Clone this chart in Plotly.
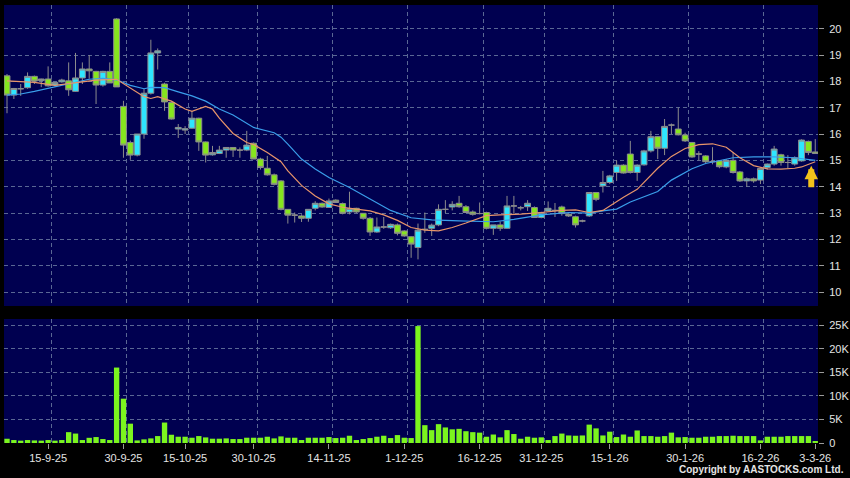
import numpy as np
import pandas as pd
import plotly.graph_objects as go

# ---------------- data ----------------
hk_holidays = ['2025-10-01', '2025-10-07', '2025-10-29', '2025-12-25', '2025-12-26',
               '2026-01-01', '2026-02-17', '2026-02-18', '2026-02-19']
dates = pd.bdate_range('2025-09-05', '2026-03-03', freq='C', holidays=hk_holidays)

open_ = [18.21, 17.48, 17.72, 17.76, 18.19, 18.03, 18.09, 17.86, 17.98, 18.02,
         17.62, 18.13, 18.47, 18.38, 17.86, 18.38, 20.37, 17.05, 15.68, 15.20,
         16.00, 17.55, 19.08, 17.90, 17.20, 16.19, 16.15, 16.22, 16.60, 15.70,
         15.21, 15.26, 15.39, 15.49, 15.39, 15.39, 15.65, 15.05, 14.70, 14.45,
         14.22, 13.14, 12.92, 12.89, 12.80, 13.18, 13.37, 13.21, 13.49, 13.36,
         13.04, 13.18, 12.99, 12.80, 12.28, 12.47, 12.44, 12.55, 12.32, 12.10,
         11.69, 12.38, 12.42, 12.55, 13.14, 13.23, 13.37, 13.24, 13.04, 12.98,
         13.02, 12.42, 12.55, 12.42, 13.27, 13.20, 13.24, 13.21, 12.83, 13.08,
         13.10, 13.23, 12.95, 12.86, 12.70, 12.89, 13.78, 14.03, 14.16, 14.54,
         14.82, 15.24, 14.54, 14.83, 15.36, 15.90, 15.46, 16.34, 16.19, 15.96,
         15.68, 15.24, 15.17, 14.95, 14.98, 14.75, 15.00, 14.56, 14.22, 14.30,
         14.25, 14.73, 14.86, 15.21, 14.92, 14.86, 14.98, 15.72, 15.32]
high = [18.28, 17.75, 17.90, 18.34, 18.22, 18.10, 18.57, 17.98, 18.10, 18.72,
        19.08, 18.72, 19.00, 18.40, 18.40, 18.72, 20.40, 17.26, 15.75, 16.00,
        17.71, 19.58, 19.25, 17.95, 17.20, 16.38, 16.30, 16.88, 16.62, 15.72,
        15.55, 15.55, 15.50, 15.50, 15.49, 16.12, 15.68, 15.10, 15.17, 14.50,
        14.25, 13.15, 13.02, 12.95, 13.15, 13.45, 13.40, 13.55, 13.52, 13.40,
        13.81, 13.20, 13.00, 12.85, 12.83, 12.85, 12.60, 12.60, 12.35, 12.12,
        12.60, 13.02, 12.60, 13.33, 13.49, 13.45, 13.65, 13.30, 13.10, 13.40,
        13.05, 12.55, 12.68, 13.65, 13.65, 13.27, 13.49, 13.25, 13.05, 13.44,
        13.38, 13.28, 13.00, 12.90, 12.75, 13.80, 13.80, 14.60, 14.45, 15.00,
        14.85, 15.74, 14.85, 15.40, 16.12, 15.92, 16.57, 16.40, 17.00, 16.05,
        15.70, 15.35, 15.20, 15.50, 15.00, 15.05, 15.30, 14.60, 14.35, 14.35,
        14.72, 14.88, 15.55, 15.25, 15.20, 15.15, 15.80, 15.75, 15.81]
low = [16.79, 17.33, 17.45, 17.72, 17.90, 17.78, 17.80, 17.80, 17.95, 17.45,
       17.60, 17.90, 18.10, 17.14, 17.80, 17.94, 17.79, 15.10, 15.02, 15.15,
       15.82, 17.50, 18.45, 16.88, 16.55, 15.85, 16.00, 16.20, 15.36, 14.92,
       15.18, 15.24, 15.10, 15.13, 15.10, 15.35, 15.05, 14.65, 14.42, 14.05,
       13.10, 12.60, 12.64, 12.66, 12.67, 13.10, 13.20, 13.20, 13.38, 12.95,
       12.95, 13.00, 12.75, 12.13, 12.25, 12.40, 12.40, 12.15, 12.10, 11.30,
       11.24, 12.25, 12.13, 12.50, 13.00, 13.10, 13.20, 13.00, 12.90, 12.95,
       12.38, 12.17, 12.32, 12.40, 12.98, 13.10, 13.08, 12.83, 12.80, 13.05,
       12.85, 12.90, 12.85, 12.45, 12.65, 12.85, 13.45, 13.78, 14.10, 14.22,
       14.50, 14.50, 14.22, 14.80, 15.30, 15.05, 15.20, 16.00, 15.95, 15.70,
       15.10, 15.00, 14.90, 14.85, 14.70, 14.70, 14.50, 14.18, 14.00, 14.15,
       14.10, 14.65, 14.80, 14.80, 14.70, 14.80, 14.95, 15.20, 15.25]
close = [17.48, 17.73, 17.72, 18.19, 18.01, 18.09, 17.83, 17.96, 18.05, 17.68,
         18.13, 18.47, 18.40, 17.86, 18.38, 17.94, 17.79, 15.58, 15.20, 16.00,
         17.55, 19.08, 19.16, 17.22, 16.57, 16.25, 16.20, 16.60, 15.70, 15.20,
         15.30, 15.39, 15.49, 15.39, 15.39, 15.58, 15.05, 14.73, 14.45, 14.09,
         13.14, 12.92, 12.92, 12.80, 13.14, 13.37, 13.23, 13.46, 13.40, 12.99,
         13.17, 13.04, 12.80, 12.28, 12.47, 12.47, 12.57, 12.23, 12.13, 11.82,
         12.35, 12.38, 12.54, 13.14, 13.14, 13.33, 13.24, 13.02, 12.95, 12.98,
         12.42, 12.55, 12.42, 13.27, 13.27, 13.20, 13.37, 12.83, 13.02, 13.18,
         13.10, 12.98, 12.89, 12.55, 12.70, 13.78, 13.52, 14.16, 14.41, 14.82,
         14.52, 14.54, 14.82, 15.36, 15.90, 15.46, 16.29, 16.34, 15.97, 15.74,
         15.13, 15.24, 14.95, 14.95, 14.76, 15.00, 14.54, 14.22, 14.30, 14.22,
         14.69, 14.86, 15.43, 14.92, 14.92, 15.10, 15.77, 15.30, 15.26]
volume = [900, 630, 500, 630, 550, 500, 630, 500, 630, 2300,
          2000, 630, 1100, 1260, 840, 630, 16000, 9400, 4100, 550,
          770, 980, 1470, 4340, 1750, 1330, 1330, 1120, 1470, 1190,
          910, 910, 980, 840, 840, 1120, 1120, 1120, 1330, 980,
          1400, 1120, 1120, 630, 1120, 1120, 1120, 1260, 1050, 1120,
          1540, 630, 840, 1050, 1330, 1540, 1050, 1680, 1120, 1050,
          24800, 3780, 2730, 4000, 3300, 2900, 3000, 2500, 2300, 2200,
          1330, 1800, 1200, 2730, 1900, 900, 1330, 1120, 1200, 630,
          1470, 2000, 1600, 1540, 1600, 3900, 3100, 1600, 2400, 1260,
          1800, 1330, 2660, 1470, 1470, 1330, 1470, 2200, 1200, 1260,
          1120, 1120, 1330, 1330, 1470, 1470, 1540, 1470, 1470, 1470,
          550, 1330, 1330, 1330, 1470, 1470, 1470, 1470, 300]

# moving averages at sample trading-day numbers
ma_short_day = [0, 4, 7, 10, 13, 16, 18, 20, 21, 22, 24, 26, 27, 29, 30, 31, 33, 35, 36,
                38, 40, 41, 43, 45, 47, 49, 51, 53, 55, 57, 59, 61, 63, 65, 67, 69, 70,
                72, 75, 78, 81, 83, 85, 87, 89, 90, 92, 94, 95, 97, 99, 101, 103, 105,
                107, 109, 111, 113, 115, 116, 117, 118]
ma_short_val = [18.02, 17.96, 17.85, 17.95, 18.05, 18.08, 17.75, 17.42, 17.35, 17.42,
                17.25, 16.95, 16.86, 17.05, 16.95, 16.60, 16.02, 15.68, 15.60, 15.30,
                14.95, 14.60, 14.05, 13.65, 13.35, 13.22, 13.15, 13.08, 12.93, 12.72,
                12.45, 12.35, 12.32, 12.45, 12.62, 12.82, 12.90, 12.93, 12.96, 13.02,
                13.10, 13.12, 13.02, 13.10, 13.45, 13.60, 13.90, 14.45, 14.70, 15.15,
                15.45, 15.60, 15.63, 15.50, 15.10, 14.80, 14.68, 14.67, 14.70, 14.75,
                14.85, 14.95]
ma_long_day = [0, 2, 4, 7, 10, 12, 14, 16, 18, 20, 21, 23, 25, 27, 29, 31, 33, 36, 39,
               40, 41, 43, 45, 47, 50, 53, 56, 59, 62, 66, 71, 74, 78, 82, 85, 87, 89,
               91, 93, 95, 97, 100, 102, 104, 106, 109, 112, 115, 118]
ma_long_val = [17.48, 17.52, 17.62, 17.80, 17.97, 18.08, 18.11, 18.06, 17.85, 17.72,
               17.77, 17.76, 17.60, 17.45, 17.25, 16.95, 16.72, 16.25, 16.05, 15.88,
               15.62, 15.05, 14.67, 14.35, 13.97, 13.55, 13.10, 12.82, 12.74, 12.70,
               12.67, 12.76, 12.93, 13.02, 13.00, 13.08, 13.15, 13.42, 13.62, 13.82,
               14.25, 14.68, 14.88, 15.00, 15.10, 15.13, 15.13, 15.10, 15.00]

tick_dates = ['2025-09-15', '2025-09-30', '2025-10-15', '2025-10-30', '2025-11-14',
              '2025-12-01', '2025-12-16', '2025-12-31', '2026-01-15', '2026-01-30',
              '2026-02-16', '2026-03-03']
tick_labels = ['15-9-25', '30-9-25', '15-10-25', '30-10-25', '14-11-25', '1-12-25',
               '16-12-25', '31-12-25', '15-1-26', '30-1-26', '16-2-26', '3-3-26']
price_ticks = [10, 11, 12, 13, 14, 15, 16, 17, 18, 19, 20]
vol_ticks = [0, 5000, 10000, 15000, 20000, 25000]
vol_tick_labels = ['0', '5K', '10K', '15K', '20K', '25K']

# ---------------- figure ----------------
day = np.arange(len(dates))
date_pos = {d.strftime('%Y-%m-%d'): i for i, d in enumerate(dates)}
tickvals = [date_pos[d] for d in tick_dates]
# the vertical grid lines sit half a bar to the right of the date ticks
gridvals = [v + 0.5 for v in tickvals]

BG = '#000050'
GRID = '#5A6794'
DASH = '4px,3px'
TXT = '#E4E4E4'
FONT = 'Liberation Sans, Arial, sans-serif'

fig = go.Figure()
fig.add_trace(go.Candlestick(
    x=day, open=open_, high=high, low=low, close=close,
    xaxis='x2', yaxis='y',
    increasing=dict(fillcolor='#2EE6FF', line=dict(color='#8C8C8C', width=1)),
    decreasing=dict(fillcolor='#86E61E', line=dict(color='#8C8C8C', width=1)),
    whiskerwidth=0, showlegend=False, hoverinfo='skip'))
fig.add_trace(go.Scatter(x=ma_long_day, y=ma_long_val, mode='lines', xaxis='x2', yaxis='y',
                         line=dict(color='#3A9EEA', width=1.2), showlegend=False, hoverinfo='skip'))
fig.add_trace(go.Scatter(x=ma_short_day, y=ma_short_val, mode='lines', xaxis='x2', yaxis='y',
                         line=dict(color='#E8956A', width=1.2), showlegend=False, hoverinfo='skip'))
fig.add_trace(go.Bar(x=day, y=volume, xaxis='x', yaxis='y2',
                     marker=dict(color='#7CF51E', line=dict(width=0)),
                     showlegend=False, hoverinfo='skip'))

xr = [-0.44, len(dates) - 1 + 0.4]
axis_common = dict(showline=False, zeroline=False, gridcolor=GRID, griddash=DASH,
                   gridwidth=1, automargin=False,
                   tickfont=dict(family=FONT, size=11, color=TXT))
xminor = dict(tickmode='array', tickvals=gridvals, showgrid=True, gridcolor=GRID,
              griddash=DASH, gridwidth=1, ticks='')
fig.update_layout(
    width=850, height=478,
    margin=dict(l=4, r=32, t=5, b=35),
    paper_bgcolor='#000000', plot_bgcolor=BG,
    bargap=0.22, boxgap=0.05, boxgroupgap=0.1,
    xaxis=dict(domain=[0, 1], anchor='y2', range=xr, tickmode='array', tickvals=tickvals,
               ticktext=tick_labels, ticks='outside', ticklen=5, tickcolor='#9A9A9A',
               showgrid=False, minor=xminor, rangeslider=dict(visible=False), **axis_common),
    xaxis2=dict(domain=[0, 1], anchor='y', matches='x', tickmode='array', tickvals=tickvals,
                showticklabels=False, ticks='', showgrid=False, minor=xminor,
                rangeslider=dict(visible=False), **axis_common),
    yaxis=dict(domain=[0.3128, 1], anchor='x2', side='right', range=[9.47, 20.9],
               tickvals=price_ticks, ticks='outside', ticklen=5, tickcolor='#9A9A9A',
               ticklabelstandoff=3, showgrid=True, **axis_common),
    yaxis2=dict(domain=[0, 0.2831], anchor='x', side='right', range=[0, 26300],
                tickvals=vol_ticks, ticktext=vol_tick_labels, ticks='outside', ticklen=5,
                tickcolor='#9A9A9A', ticklabelstandoff=3, showgrid=True, **axis_common),
    annotations=[
        dict(x=day[-1], y=14.8, xref='x2', yref='y', ax=0, ay=23, axref='pixel', ayref='pixel',
             showarrow=True, arrowhead=2, arrowsize=0.45, arrowwidth=6, arrowcolor='#F2C21B',
             text='', xshift=-4),
        dict(x=1.0344, y=-0.0616, xref='paper', yref='paper', xanchor='right', yanchor='middle',
             showarrow=False, text='<b>Copyright by AASTOCKS.com Ltd.</b>',
             font=dict(family=FONT, size=10, color=TXT)),
    ],
)

fig.write_html('out.html', config={'displayModeBar': False},
               post_script="document.body.style.margin='0px';document.body.style.background='#000';")
